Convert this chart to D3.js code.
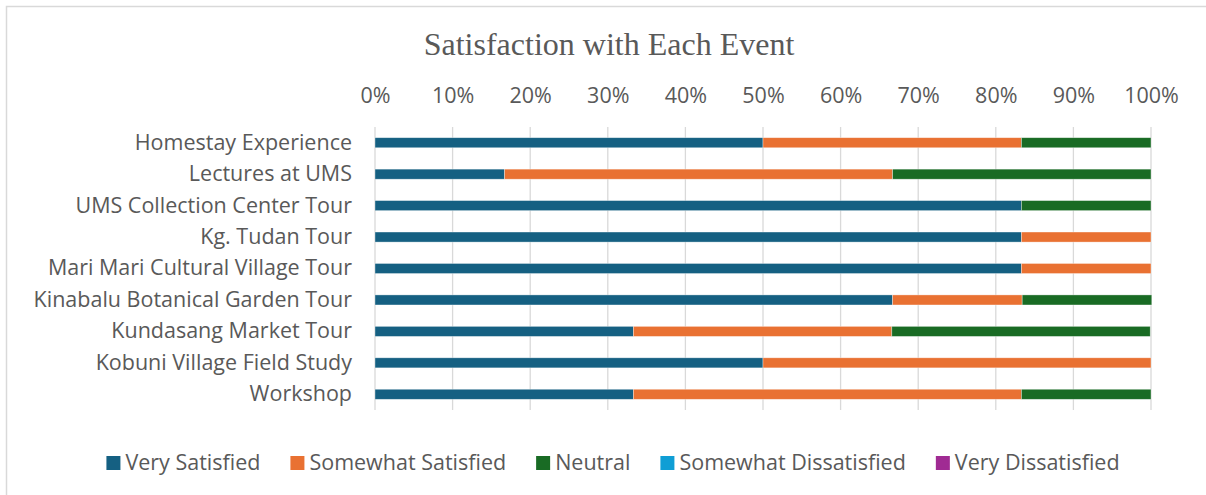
<!DOCTYPE html>
<html>
<head>
<meta charset="utf-8">
<script src="https://cdn.jsdelivr.net/npm/d3@7"></script>
<style>
  body { margin: 0; background: #fff; }
  text { fill: #595959; }
</style>
</head>
<body>
<svg id="chart" width="1206" height="495"></svg>
<script>
// Data (percent of respondents)
var events = ["Homestay Experience", "Lectures at UMS", "UMS Collection Center Tour",
  "Kg. Tudan Tour", "Mari Mari Cultural Village Tour", "Kinabalu Botanical Garden Tour",
  "Kundasang Market Tour", "Kobuni Village Field Study", "Workshop"];
var seriesNames = ["Very Satisfied", "Somewhat Satisfied", "Neutral", "Somewhat Dissatisfied", "Very Dissatisfied"];
var verySatisfied      = [50, 16.7, 83.3, 83.3, 83.3, 66.7, 33.3, 50, 33.3];
var somewhatSatisfied  = [33.3, 50, 0, 16.7, 16.7, 16.7, 33.3, 50, 50];
var neutral            = [16.7, 33.3, 16.7, 0, 0, 16.7, 33.3, 0, 16.7];
var somewhatDissatisfied = [0, 0, 0, 0, 0, 0, 0, 0, 0];
var veryDissatisfied   = [0, 0, 0, 0, 0, 0, 0, 0, 0];
var tickValues = [0, 10, 20, 30, 40, 50, 60, 70, 80, 90, 100];
var colors = ["#156082", "#e97132", "#196b24", "#0f9ed5", "#a02b93"];

var svg = d3.select("#chart");
var sansFont = "'Open Sans', 'Liberation Sans', sans-serif";
var labelSize = "21.5px";

// chart area border
svg.append("rect")
  .attr("x", 6.5).attr("y", 6.5)
  .attr("width", 1220).attr("height", 500)
  .attr("fill", "#fff")
  .attr("stroke", "#d9d9d9")
  .attr("stroke-width", 1.5);

var plotLeft = 375, plotRight = 1151, plotTop = 127, plotBottom = 410;

var rows = events.map(function(e, i) {
  return {
    event: e,
    "Very Satisfied": verySatisfied[i],
    "Somewhat Satisfied": somewhatSatisfied[i],
    "Neutral": neutral[i],
    "Somewhat Dissatisfied": somewhatDissatisfied[i],
    "Very Dissatisfied": veryDissatisfied[i]
  };
});

var x = d3.scaleLinear().domain([0, 100]).range([plotLeft, plotRight]);
var y = d3.scaleBand().domain(events).range([plotTop, plotBottom]).paddingInner(0.68).paddingOuter(0.34);
var color = d3.scaleOrdinal().domain(seriesNames).range(colors);

// title
svg.append("text")
  .attr("x", 609).attr("y", 55)
  .attr("text-anchor", "middle")
  .style("font-family", "'Liberation Serif', 'Times New Roman', serif")
  .style("font-size", "32px")
  .text("Satisfaction with Each Event");

// gridlines
svg.append("g")
  .selectAll("line")
  .data(tickValues)
  .enter().append("line")
  .attr("x1", function(d) { return x(d); })
  .attr("x2", function(d) { return x(d); })
  .attr("y1", plotTop).attr("y2", plotBottom)
  .attr("stroke", "#d9d9d9")
  .attr("stroke-width", 1.3);

// top axis labels
var xAxis = d3.axisTop(x).tickValues(tickValues).tickSize(0).tickPadding(0)
  .tickFormat(function(d) { return d + "%"; });
var gx = svg.append("g").attr("transform", "translate(0,103)").call(xAxis);
gx.select(".domain").remove();
gx.selectAll("text")
  .style("font-family", sansFont)
  .style("font-size", labelSize)
  .attr("fill", "#595959");

// category labels
var yAxis = d3.axisLeft(y).tickSize(0).tickPadding(0);
var gy = svg.append("g").attr("transform", "translate(352,0)").call(yAxis);
gy.select(".domain").remove();
gy.selectAll("text")
  .style("font-family", sansFont)
  .style("font-size", labelSize)
  .attr("fill", "#595959");

// stacked bars
var stack = d3.stack().keys(seriesNames);
var layers = stack(rows);

svg.append("g")
  .selectAll("g")
  .data(layers)
  .enter().append("g")
  .attr("fill", function(d) { return color(d.key); })
  .selectAll("rect")
  .data(function(d) { return d.filter(function(s) { return s[1] - s[0] > 0; }); })
  .enter().append("rect")
  .attr("x", function(d) { return x(d[0]); })
  .attr("width", function(d) { return x(d[1]) - x(d[0]); })
  .attr("y", function(d) { return y(d.data.event); })
  .attr("height", y.bandwidth())
  .attr("stroke", "#fff")
  .attr("stroke-opacity", 0.5)
  .attr("stroke-width", 0.7);

// legend
var legend = svg.append("g").attr("transform", "translate(0,462)");
var items = legend.selectAll("g")
  .data(seriesNames)
  .enter().append("g");
items.append("rect")
  .attr("x", 0).attr("y", -6)
  .attr("width", 14).attr("height", 14)
  .attr("fill", function(d) { return color(d); });
items.append("text")
  .attr("x", 19).attr("y", 8)
  .style("font-family", sansFont)
  .style("font-size", labelSize)
  .text(function(d) { return d; });

var widths = [];
items.each(function() {
  widths.push(19 + d3.select(this).select("text").node().getComputedTextLength());
});
var gap = 30;
var total = d3.sum(widths) + gap * (widths.length - 1);
var pos = 613 - total / 2;
items.attr("transform", function(d, i) {
  var p = pos;
  pos += widths[i] + gap;
  return "translate(" + p + ",0)";
});
</script>
</body>
</html>
